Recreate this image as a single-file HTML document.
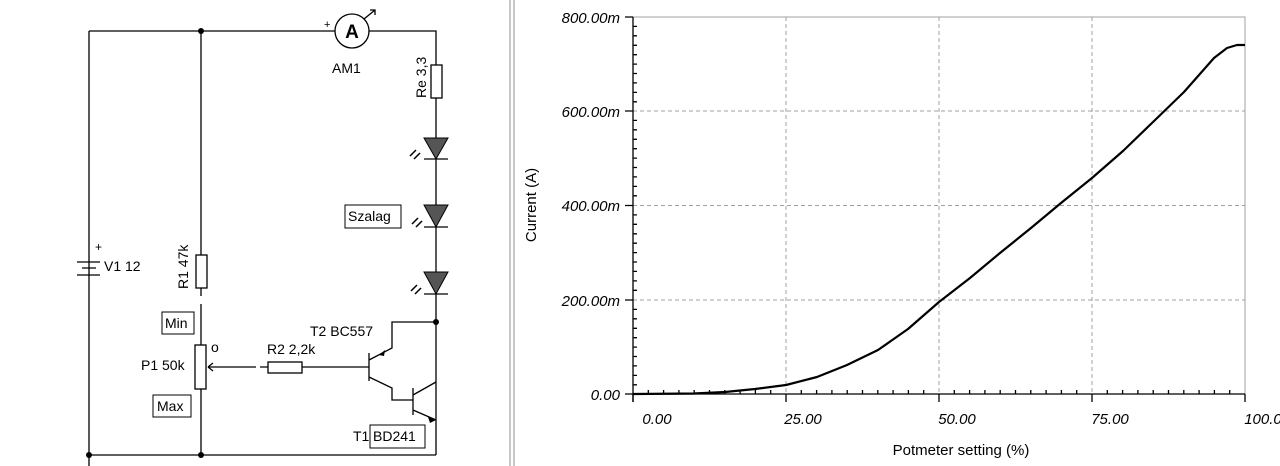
<!DOCTYPE html>
<html><head><meta charset="utf-8"><style>
html,body{margin:0;padding:0;background:#fff;}
svg{display:block;font-family:"Liberation Sans",Arial,sans-serif;}
</style></head><body>
<svg width="1280" height="466" viewBox="0 0 1280 466" xmlns="http://www.w3.org/2000/svg">
<rect width="1280" height="466" fill="#fff"/>
<rect x="509" y="0" width="2" height="466" fill="#c8c8c8"/>
<rect x="513" y="0" width="2" height="466" fill="#c8c8c8"/>
<g stroke="#000" stroke-width="1.3" fill="none">
<path d="M89,31V466 M89,31H335 M369,31H436V65 M436,98V455 M89,455H436 M201,31V255 M201,288V296 M201,304V345 M201,389V455"/>
<circle cx="352" cy="31" r="17"/>
<path d="M364,19L375,10 M370,10H375V15"/>
<rect x="431" y="65" width="11" height="33" fill="#fff"/>
<rect x="196" y="255" width="11" height="33" fill="#fff"/>
<rect x="195" y="345" width="11" height="44" fill="#fff"/>
<rect x="268" y="362" width="34" height="11" fill="#fff"/>
<path d="M208,367H256 M260,367H268 M302,367H369 M208,367l5,-4 M208,367l5,4"/>
<path d="M77,262H100 M82,268H96 M77,275H100"/>
<path d="M424,159H448 M424,227H448 M424,294H448"/>
<path d="M369,353V381 M369,360L392,348V322H436 M369,377L392,388V400H413 M413,388V415 M413,395L436,382 M413,410L436,420"/>
<rect x="162" y="312" width="32" height="22" stroke-width="1"/>
<rect x="153" y="395" width="38" height="22" stroke-width="1"/>
<rect x="345" y="205" width="56" height="23" stroke-width="1"/>
<rect x="370" y="425" width="55" height="23" stroke-width="1"/>
<path d="M416,150l-6,6 M420,153l-6,6 M418,218l-6,6 M422,221l-6,6 M417,285l-6,6 M421,288l-6,6" stroke-width="1.5"/>
</g>
<g fill="#555" stroke="#000" stroke-width="1">
<path d="M424,138H448L436,159Z"/><path d="M424,205H448L436,227Z"/><path d="M424,272H448L436,294Z"/>
</g>
<g fill="#000">
<circle cx="201" cy="31" r="3"/><circle cx="201" cy="455" r="3"/><circle cx="89" cy="455" r="3"/><circle cx="436" cy="322" r="3"/>
<path d="M379,355l6,-5 l-1,6z M428,417l8,3 l-6,3z"/>
</g>
<g font-size="14" fill="#000">
<text x="352" y="38" font-size="19" font-weight="bold" text-anchor="middle">A</text>
<text x="324" y="28" font-size="11">+</text>
<text x="332" y="73">AM1</text>
<text x="95" y="251" font-size="12">+</text>
<text x="104" y="271">V1 12</text>
<text transform="translate(426,98) rotate(-90)">Re 3,3</text>
<text transform="translate(188,289) rotate(-90)">R1 47k</text>
<text x="348" y="221">Szalag</text>
<text x="165" y="328">Min</text>
<text x="157" y="411">Max</text>
<text x="141" y="370">P1 50k</text>
<text x="211" y="352">o</text>
<text x="267" y="354">R2 2,2k</text>
<text x="310" y="336">T2 BC557</text>
<text x="353" y="441">T1</text>
<text x="373" y="441">BD241</text>
</g>
<g stroke="#a0a0a0" stroke-width="1" stroke-dasharray="4,3" fill="none">
<path d="M633,111H1245 M633,205.5H1245 M633,300H1245 M786,17V394 M939,17V394 M1092,17V394"/>
</g>
<path d="M633,17H1245V394" stroke="#a0a0a0" fill="none"/>
<g stroke="#000" stroke-width="1.3" fill="none">
<path d="M633,17V402 M625,394H1245"/>
<path d="M625,17H633 M625,111H633 M625,205.5H633 M625,300H633 M633,402V394 M786,394V402 M939,394V402 M1092,394V402 M1245,394V402"/>
<path d="M633,26.4h4M633,35.8h4M633,45.3h4M633,54.7h4M633,64.1h4M633,73.5h4M633,82.9h4M633,92.4h4M633,101.8h4M633,120.4h4M633,129.8h4M633,139.3h4M633,148.7h4M633,158.1h4M633,167.5h4M633,176.9h4M633,186.4h4M633,195.8h4M633,214.9h4M633,224.3h4M633,233.8h4M633,243.2h4M633,252.6h4M633,262h4M633,271.4h4M633,280.9h4M633,290.3h4M633,309.4h4M633,318.8h4M633,328.3h4M633,337.7h4M633,347.1h4M633,356.5h4M633,365.9h4M633,375.4h4M633,384.8h4"/>
<path d="M648.3,394v-4M663.6,394v-4M678.9,394v-4M694.2,394v-4M709.5,394v-4M724.8,394v-4M740.1,394v-4M755.4,394v-4M770.7,394v-4M801.3,394v-4M816.6,394v-4M831.9,394v-4M847.2,394v-4M862.5,394v-4M877.8,394v-4M893.1,394v-4M908.4,394v-4M923.7,394v-4M954.3,394v-4M969.6,394v-4M984.9,394v-4M1000.2,394v-4M1015.5,394v-4M1030.8,394v-4M1046.1,394v-4M1061.4,394v-4M1076.7,394v-4M1107.3,394v-4M1122.6,394v-4M1137.9,394v-4M1153.2,394v-4M1168.5,394v-4M1183.8,394v-4M1199.1,394v-4M1214.4,394v-4M1229.7,394v-4"/>
</g>
<path d="M633,394 L694,393.5 L725,392 L755,389 L786,385 L817,377 L847,365 L878,350 L908,329 L939,302 L970,278 L1000,253 L1031,228 L1061,203 L1092,178 L1123,151 L1153,122 L1184,92 L1214,58 L1227,48 L1237,45 L1245,45" stroke="#000" stroke-width="2.2" fill="none" stroke-linejoin="round"/>
<g font-size="15" font-style="italic" fill="#000" text-anchor="end">
<text x="620" y="23">800.00m</text>
<text x="620" y="117">600.00m</text>
<text x="620" y="211">400.00m</text>
<text x="620" y="306">200.00m</text>
<text x="620" y="400">0.00</text>
</g>
<g font-size="15" font-style="italic" fill="#000" text-anchor="middle">
<text x="657" y="424">0.00</text>
<text x="803" y="424">25.00</text>
<text x="957" y="424">50.00</text>
<text x="1110" y="424">75.00</text>
<text x="1263" y="424">100.0</text>
</g>
<text x="961" y="455" font-size="15" text-anchor="middle">Potmeter setting (%)</text>
<text transform="translate(536,205) rotate(-90)" font-size="15" text-anchor="middle">Current (A)</text>
</svg>
</body></html>
